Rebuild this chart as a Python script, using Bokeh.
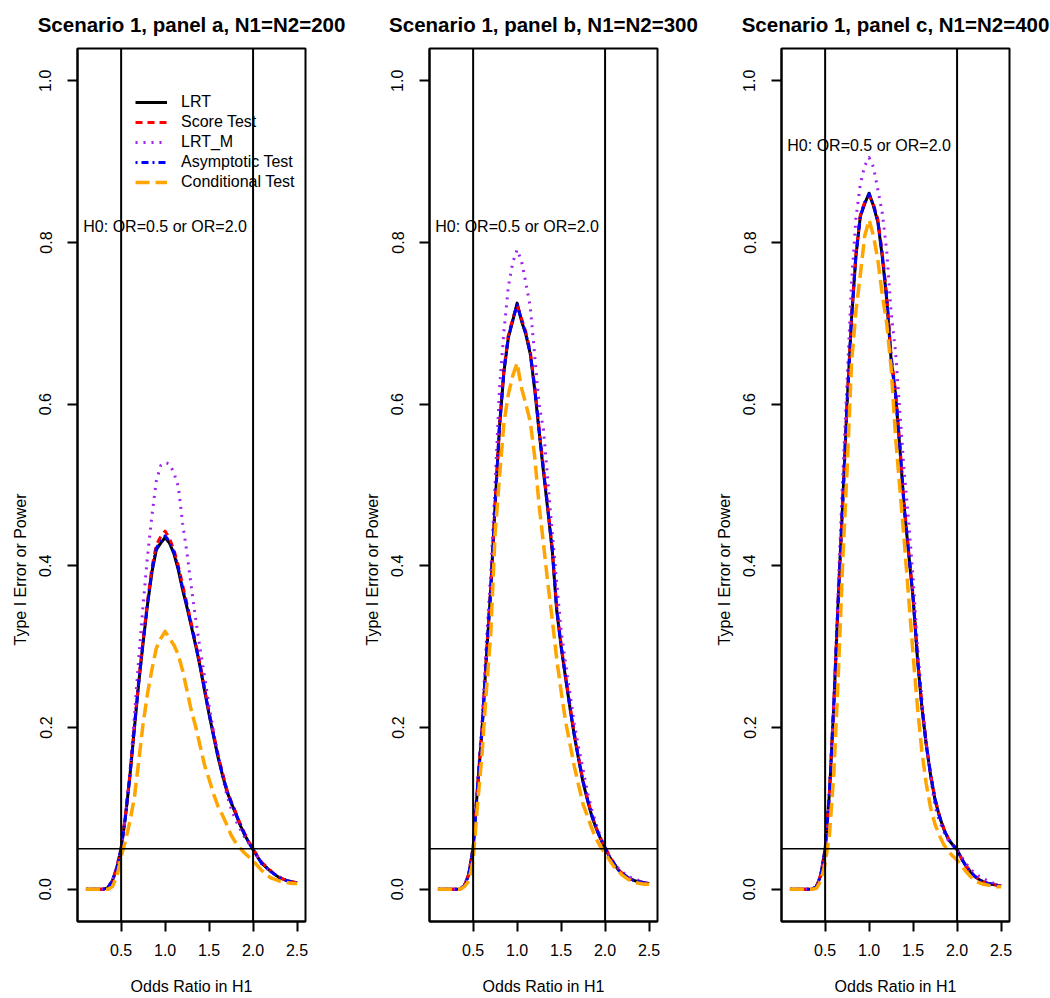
from bokeh.plotting import figure
from bokeh.models import Range1d, Span, Legend, LegendItem, FixedTicker, PrintfTickFormatter, Title
from bokeh.layouts import row
from bokeh.embed import file_html
from bokeh.resources import INLINE
from bokeh.core.properties import value

# ---------------- data ----------------
ODDS_RATIO = [0.10, 0.15, 0.20, 0.25, 0.30, 0.35, 0.40, 0.45, 0.50, 0.55,
              0.60, 0.65, 0.70, 0.75, 0.80, 0.85, 0.90, 0.95, 1.00, 1.05,
              1.10, 1.15, 1.20, 1.25, 1.30, 1.35, 1.40, 1.45, 1.50, 1.55,
              1.60, 1.65, 1.70, 1.75, 1.80, 1.85, 1.90, 1.95, 2.00, 2.05,
              2.10, 2.15, 2.20, 2.25, 2.30, 2.35, 2.40, 2.45, 2.50]

SERIES_NAMES = ["LRT", "Score Test", "LRT_M", "Asymptotic Test", "Conditional Test"]

# panel a, N1=N2=200
A_LRT = [0, 0, 0, 0, 0, 0.002, 0.010, 0.026, 0.050, 0.090,
         0.140, 0.198, 0.255, 0.305, 0.352, 0.392, 0.420, 0.428, 0.435, 0.428,
         0.415, 0.395, 0.370, 0.348, 0.324, 0.300, 0.274, 0.245, 0.216, 0.190,
         0.164, 0.142, 0.122, 0.107, 0.094, 0.080, 0.068, 0.058, 0.049, 0.040,
         0.032, 0.027, 0.022, 0.018, 0.014, 0.012, 0.010, 0.009, 0.008]
A_SCORE = [0, 0, 0, 0, 0, 0.002, 0.010, 0.027, 0.051, 0.092,
           0.142, 0.201, 0.258, 0.309, 0.356, 0.398, 0.426, 0.436, 0.443, 0.434,
           0.420, 0.400, 0.376, 0.352, 0.328, 0.303, 0.277, 0.248, 0.219, 0.193,
           0.167, 0.145, 0.124, 0.109, 0.096, 0.082, 0.070, 0.059, 0.050, 0.041,
           0.033, 0.028, 0.023, 0.018, 0.015, 0.012, 0.010, 0.009, 0.008]
A_LRTM = [0, 0, 0, 0, 0, 0.002, 0.011, 0.027, 0.050, 0.092,
          0.145, 0.212, 0.285, 0.352, 0.412, 0.462, 0.505, 0.524, 0.528, 0.526,
          0.515, 0.498, 0.452, 0.415, 0.372, 0.332, 0.296, 0.262, 0.227, 0.195,
          0.167, 0.140, 0.117, 0.100, 0.086, 0.075, 0.065, 0.057, 0.050, 0.040,
          0.031, 0.026, 0.022, 0.018, 0.015, 0.012, 0.010, 0.008, 0.007]
A_ASYM = [0, 0, 0, 0, 0, 0.002, 0.010, 0.026, 0.050, 0.091,
          0.141, 0.199, 0.256, 0.306, 0.353, 0.394, 0.422, 0.430, 0.437, 0.430,
          0.417, 0.397, 0.372, 0.350, 0.326, 0.301, 0.275, 0.246, 0.217, 0.191,
          0.165, 0.143, 0.123, 0.108, 0.095, 0.081, 0.069, 0.058, 0.049, 0.040,
          0.032, 0.027, 0.022, 0.018, 0.014, 0.012, 0.010, 0.009, 0.008]
A_COND = [0, 0, 0, 0, 0, 0.000, 0.003, 0.015, 0.040, 0.060,
          0.084, 0.113, 0.158, 0.205, 0.242, 0.272, 0.298, 0.310, 0.319, 0.310,
          0.302, 0.290, 0.270, 0.245, 0.220, 0.200, 0.176, 0.153, 0.136, 0.118,
          0.103, 0.092, 0.080, 0.067, 0.058, 0.051, 0.045, 0.040, 0.035, 0.029,
          0.023, 0.018, 0.014, 0.012, 0.010, 0.009, 0.008, 0.007, 0.007]

# panel b, N1=N2=300
B_LRT = [0, 0, 0, 0, 0, 0.000, 0.004, 0.018, 0.051, 0.125,
         0.195, 0.285, 0.370, 0.475, 0.572, 0.640, 0.682, 0.703, 0.725, 0.703,
         0.686, 0.662, 0.618, 0.566, 0.516, 0.468, 0.418, 0.345, 0.300, 0.262,
         0.225, 0.190, 0.160, 0.132, 0.110, 0.090, 0.075, 0.062, 0.051, 0.040,
         0.032, 0.024, 0.019, 0.015, 0.012, 0.010, 0.009, 0.008, 0.007]
B_SCORE = [0, 0, 0, 0, 0, 0.000, 0.004, 0.019, 0.052, 0.127,
           0.198, 0.288, 0.373, 0.478, 0.575, 0.643, 0.685, 0.706, 0.722, 0.706,
           0.689, 0.665, 0.622, 0.570, 0.520, 0.472, 0.421, 0.349, 0.303, 0.265,
           0.228, 0.193, 0.162, 0.134, 0.112, 0.092, 0.076, 0.063, 0.052, 0.041,
           0.032, 0.024, 0.019, 0.015, 0.012, 0.010, 0.009, 0.008, 0.007]
B_LRTM = [0, 0, 0, 0, 0, 0.000, 0.005, 0.019, 0.051, 0.130,
          0.205, 0.305, 0.390, 0.500, 0.620, 0.690, 0.745, 0.775, 0.791, 0.777,
          0.750, 0.720, 0.660, 0.600, 0.568, 0.505, 0.440, 0.380, 0.320, 0.280,
          0.243, 0.205, 0.175, 0.148, 0.120, 0.098, 0.080, 0.064, 0.051, 0.041,
          0.033, 0.026, 0.021, 0.017, 0.014, 0.012, 0.010, 0.008, 0.007]
B_ASYM = [0, 0, 0, 0, 0, 0.000, 0.004, 0.018, 0.051, 0.126,
          0.196, 0.286, 0.371, 0.476, 0.573, 0.641, 0.683, 0.704, 0.723, 0.704,
          0.687, 0.663, 0.620, 0.568, 0.518, 0.470, 0.420, 0.347, 0.301, 0.263,
          0.226, 0.191, 0.161, 0.133, 0.111, 0.091, 0.075, 0.062, 0.051, 0.040,
          0.032, 0.024, 0.019, 0.015, 0.012, 0.010, 0.009, 0.008, 0.007]
B_COND = [0, 0, 0, 0, 0, 0.000, 0.003, 0.010, 0.035, 0.105,
          0.165, 0.245, 0.315, 0.440, 0.510, 0.577, 0.612, 0.635, 0.651, 0.620,
          0.600, 0.578, 0.535, 0.475, 0.427, 0.378, 0.333, 0.285, 0.245, 0.208,
          0.180, 0.152, 0.128, 0.105, 0.090, 0.075, 0.062, 0.052, 0.045, 0.036,
          0.028, 0.022, 0.017, 0.013, 0.010, 0.008, 0.007, 0.006, 0.006]

# panel c, N1=N2=400
C_LRT = [0, 0, 0, 0, 0, 0.000, 0.003, 0.017, 0.049, 0.120,
         0.230, 0.360, 0.478, 0.600, 0.705, 0.783, 0.832, 0.848, 0.861, 0.845,
         0.825, 0.782, 0.730, 0.655, 0.612, 0.545, 0.470, 0.415, 0.360, 0.285,
         0.225, 0.178, 0.140, 0.110, 0.090, 0.074, 0.062, 0.055, 0.049, 0.038,
         0.029, 0.022, 0.016, 0.012, 0.009, 0.007, 0.006, 0.005, 0.004]
C_SCORE = [0, 0, 0, 0, 0, 0.000, 0.003, 0.018, 0.050, 0.122,
           0.233, 0.363, 0.481, 0.603, 0.708, 0.786, 0.834, 0.850, 0.858, 0.847,
           0.828, 0.786, 0.734, 0.660, 0.616, 0.549, 0.474, 0.418, 0.363, 0.288,
           0.228, 0.180, 0.142, 0.112, 0.091, 0.075, 0.063, 0.055, 0.049, 0.038,
           0.029, 0.022, 0.016, 0.012, 0.009, 0.007, 0.006, 0.005, 0.004]
C_LRTM = [0, 0, 0, 0, 0, 0.000, 0.003, 0.017, 0.049, 0.115,
          0.235, 0.375, 0.510, 0.630, 0.750, 0.830, 0.872, 0.895, 0.905, 0.893,
          0.865, 0.836, 0.790, 0.714, 0.665, 0.590, 0.515, 0.455, 0.385, 0.300,
          0.235, 0.180, 0.137, 0.102, 0.084, 0.071, 0.060, 0.054, 0.049, 0.040,
          0.032, 0.025, 0.020, 0.016, 0.013, 0.010, 0.008, 0.006, 0.004]
C_ASYM = [0, 0, 0, 0, 0, 0.000, 0.003, 0.017, 0.049, 0.121,
          0.231, 0.361, 0.479, 0.601, 0.706, 0.784, 0.833, 0.849, 0.860, 0.846,
          0.826, 0.784, 0.732, 0.657, 0.614, 0.547, 0.472, 0.416, 0.361, 0.286,
          0.226, 0.179, 0.141, 0.111, 0.090, 0.074, 0.062, 0.055, 0.049, 0.038,
          0.029, 0.022, 0.016, 0.012, 0.009, 0.007, 0.006, 0.005, 0.004]
C_COND = [0, 0, 0, 0, 0, 0.000, 0.001, 0.010, 0.032, 0.068,
          0.145, 0.265, 0.405, 0.520, 0.650, 0.715, 0.760, 0.808, 0.828, 0.808,
          0.778, 0.735, 0.700, 0.645, 0.560, 0.495, 0.430, 0.360, 0.290, 0.225,
          0.170, 0.130, 0.100, 0.080, 0.066, 0.055, 0.047, 0.041, 0.036, 0.029,
          0.022, 0.016, 0.011, 0.008, 0.006, 0.005, 0.004, 0.003, 0.003]

PANEL_TITLES = ["Scenario 1, panel a, N1=N2=200",
                "Scenario 1, panel b, N1=N2=300",
                "Scenario 1, panel c, N1=N2=400"]
PANEL_SERIES = [[A_LRT, A_SCORE, A_LRTM, A_ASYM, A_COND],
                [B_LRT, B_SCORE, B_LRTM, B_ASYM, B_COND],
                [C_LRT, C_SCORE, C_LRTM, C_ASYM, C_COND]]

H0_LABEL = "H0: OR=0.5 or OR=2.0"
H0_LABEL_X = [1.0, 1.0, 1.0]
H0_LABEL_Y = [0.82, 0.82, 0.92]
H0_BOUNDS = [0.5, 2.0]
ALPHA = 0.05

X_TICKS = [0.5, 1.0, 1.5, 2.0, 2.5]
Y_TICKS = [0.0, 0.2, 0.4, 0.6, 0.8, 1.0]
X_LABEL = "Odds Ratio in H1"
Y_LABEL = "Type I Error or Power"

# ---------------- styles ----------------
FONT = "Liberation Sans"
STYLES = [
    dict(color="#000000", dash="solid", width=3),
    dict(color="#FF0000", dash="7 5", width=3),
    dict(color="#A020F0", dash="2 6", width=3),
    dict(color="#0000FF", dash="2 4 7 4", width=3),
    dict(color="#FFA500", dash="14 6", width=3.5),
]
# (figure width, border left, border right)
LAYOUT = [(350, 77, 45), (350, 79, 43), (350, 81, 41)]
HEIGHT = 998


def make_panel(i):
    w, bl, br = LAYOUT[i]
    p = figure(width=w, height=HEIGHT,
               x_range=Range1d(0.004, 2.596), y_range=Range1d(-0.04, 1.04),
               output_backend="svg", toolbar_location=None,
               min_border_left=bl, min_border_right=br,
               min_border_top=48, min_border_bottom=77,
               background_fill_color="white", border_fill_color="white")
    p.xgrid.visible = False
    p.ygrid.visible = False
    p.outline_line_color = "black"
    p.outline_line_width = 2

    p.title.text = PANEL_TITLES[i]
    p.title.align = "center"
    p.title.vertical_align = "top"
    p.title.text_font = FONT
    p.title.text_font_size = "20.5px"
    p.title.text_font_style = "bold"
    p.title.text_color = "black"
    p.title.standoff = 21

    for ax in (p.xaxis[0], p.yaxis[0]):
        ax.axis_line_color = "black"
        ax.axis_line_width = 2
        ax.major_tick_line_color = "black"
        ax.major_tick_line_width = 2
        ax.major_tick_out = 10
        ax.major_tick_in = 0
        ax.minor_tick_line_color = None
        ax.major_label_text_font = FONT
        ax.major_label_text_font_size = "16px"
        ax.major_label_text_color = "black"
        ax.axis_label_text_font = FONT
        ax.axis_label_text_font_size = "16px"
        ax.axis_label_text_font_style = "normal"
        ax.axis_label_text_color = "black"
        ax.formatter = PrintfTickFormatter(format="%.1f")

    p.xaxis.ticker = FixedTicker(ticks=X_TICKS)
    p.yaxis.ticker = FixedTicker(ticks=Y_TICKS)
    p.xaxis.axis_label = X_LABEL
    p.xaxis.major_label_standoff = 12
    p.xaxis.axis_label_standoff = 19
    p.yaxis.major_label_standoff = 16
    p.yaxis.major_label_orientation = "vertical"

    ylab = Title(text=Y_LABEL, align="left", offset=276, standoff=12,
                 vertical_align="top",
                 text_font=FONT, text_font_size="16px", text_font_style="normal",
                 text_color="black")
    p.add_layout(ylab, "left")

    p.text(x=[H0_LABEL_X[i]], y=[H0_LABEL_Y[i]], text=[H0_LABEL],
           text_align="center", text_baseline="middle",
           text_font=value(FONT), text_font_size="16px", text_color="black")

    renderers = []
    for name, ys, st in zip(SERIES_NAMES, PANEL_SERIES[i], STYLES):
        r = p.line(ODDS_RATIO, ys, line_color=st["color"], line_width=st["width"],
                   line_dash=st["dash"], line_join="round")
        renderers.append((name, r))

    for loc in H0_BOUNDS:
        p.add_layout(Span(location=loc, dimension="height",
                          line_color="black", line_width=2))
    p.add_layout(Span(location=ALPHA, dimension="width",
                      line_color="black", line_width=1.5))

    if i == 0:
        legend = Legend(items=[LegendItem(label=n, renderers=[r]) for n, r in renderers],
                        location=(58, 730))
        legend.glyph_width = 32
        legend.glyph_height = 18
        legend.label_height = 18
        legend.label_standoff = 14
        legend.spacing = 2
        legend.padding = 0
        legend.margin = 0
        legend.border_line_alpha = 0
        legend.background_fill_alpha = 0
        legend.label_text_font = FONT
        legend.label_text_font_size = "16px"
        legend.label_text_color = "black"
        p.add_layout(legend)
    return p


panels = [make_panel(i) for i in range(3)]
layout = row(*panels)
open("out.html", "w").write(file_html(layout, INLINE))
